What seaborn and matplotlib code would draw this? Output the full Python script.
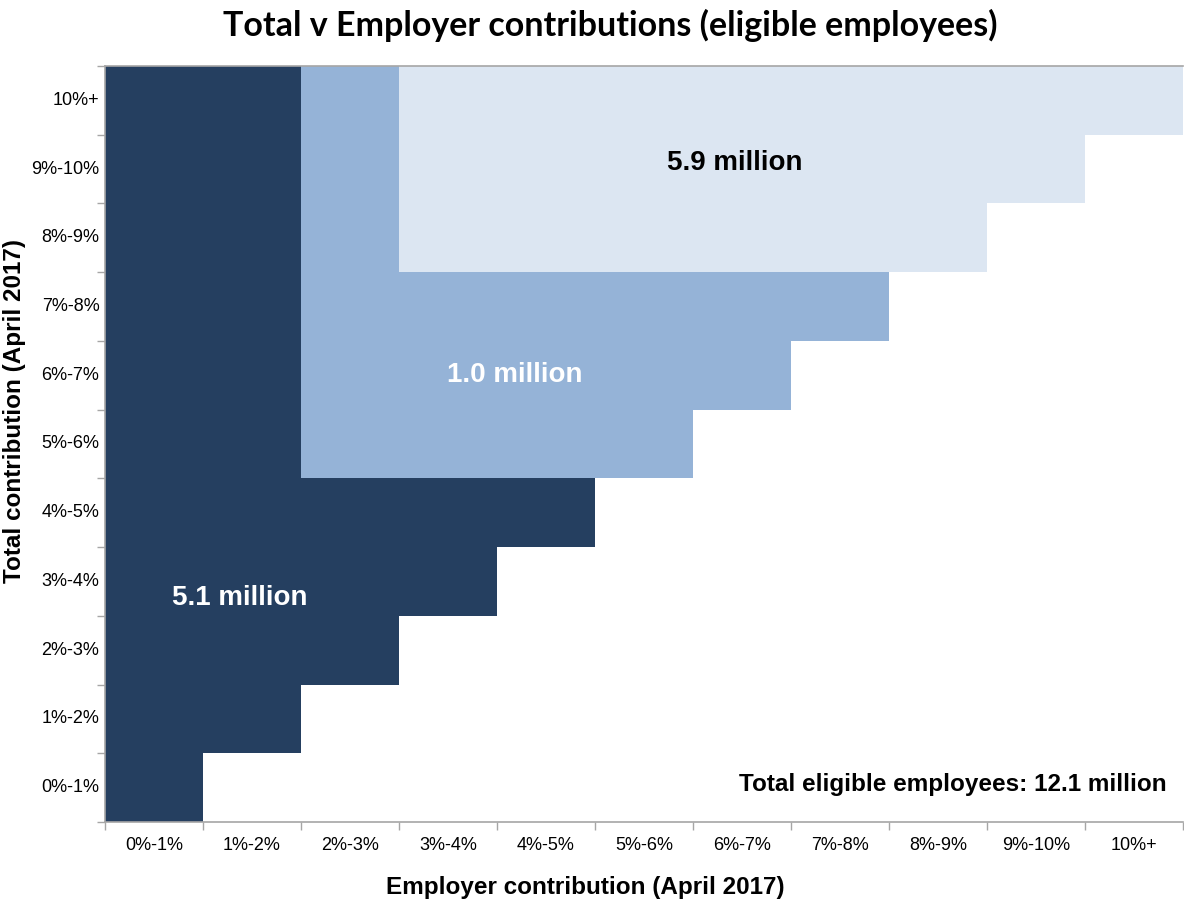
import numpy as np
import pandas as pd
import matplotlib
matplotlib.use("Agg")
import matplotlib.pyplot as plt
from matplotlib.colors import ListedColormap
import seaborn as sns

sns.set_style("white")
plt.rcParams['font.family'] = ['Liberation Sans', 'DejaVu Sans']
plt.rcParams['text.color'] = 'black'
plt.rcParams['axes.labelcolor'] = 'black'

bands = ["0%-1%", "1%-2%", "2%-3%", "3%-4%", "4%-5%", "5%-6%",
         "6%-7%", "7%-8%", "8%-9%", "9%-10%", "10%+"]

# group code per (total contribution row, employer contribution column)
# 0 = no employees, 1 = dark group, 2 = mid group, 3 = light group
row_0 = [1, 0, 0, 0, 0, 0, 0, 0, 0, 0, 0]
row_1 = [1, 1, 0, 0, 0, 0, 0, 0, 0, 0, 0]
row_2 = [1, 1, 1, 0, 0, 0, 0, 0, 0, 0, 0]
row_3 = [1, 1, 1, 1, 0, 0, 0, 0, 0, 0, 0]
row_4 = [1, 1, 1, 1, 1, 0, 0, 0, 0, 0, 0]
row_5 = [1, 1, 2, 2, 2, 2, 0, 0, 0, 0, 0]
row_6 = [1, 1, 2, 2, 2, 2, 2, 0, 0, 0, 0]
row_7 = [1, 1, 2, 2, 2, 2, 2, 2, 0, 0, 0]
row_8 = [1, 1, 2, 3, 3, 3, 3, 3, 3, 0, 0]
row_9 = [1, 1, 2, 3, 3, 3, 3, 3, 3, 3, 0]
row_10 = [1, 1, 2, 3, 3, 3, 3, 3, 3, 3, 3]

group_labels = ["5.1 million", "1.0 million", "5.9 million"]
total_label = "Total eligible employees: 12.1 million"

rows = [row_0, row_1, row_2, row_3, row_4, row_5, row_6, row_7, row_8, row_9, row_10]
df = pd.DataFrame(rows[::-1], index=bands[::-1], columns=bands)

colors = ["#FFFFFF", "#253F60", "#95B3D7", "#DCE6F2"]
cmap = ListedColormap(colors)

fig = plt.figure(figsize=(11.84, 9), dpi=100)
ax = fig.add_axes([0.0887, 0.0867, 0.9103, 0.84])
sns.heatmap(df, cmap=cmap, vmin=-0.5, vmax=3.5, cbar=False, ax=ax,
            linewidths=0, square=False)

n = len(bands)
ax.set_xticks(np.arange(n) + 0.5)
ax.set_xticklabels(bands, rotation=0, fontsize=13, color="black")
ax.set_yticks(np.arange(n) + 0.5)
ax.set_yticklabels(bands[::-1], rotation=0, fontsize=13, color="black")
ax.set_xticks(np.arange(n + 1), minor=True)
ax.set_yticks(np.arange(n + 1), minor=True)
ax.tick_params(axis="both", which="major", length=0)
ax.tick_params(axis="x", which="minor", bottom=True, length=6,
               color="#A6A6A6", width=1)
ax.tick_params(axis="y", which="minor", left=True, length=6,
               color="#A6A6A6", width=1)
ax.tick_params(axis="y", which="major", pad=4)
ax.tick_params(axis="x", which="major", pad=11)

for side in ["top", "bottom", "left"]:
    ax.spines[side].set_visible(True)
    ax.spines[side].set_color("#A6A6A6")
    ax.spines[side].set_linewidth(1.2)
ax.spines["right"].set_visible(False)

ax.set_xlabel("Employer contribution (April 2017)", fontsize=17.5,
              fontweight="bold", color="black")
ax.xaxis.set_label_coords(0.446, -0.072)
ax.set_ylabel("Total contribution (April 2017)", fontsize=17.5,
              fontweight="bold", color="black")
ax.yaxis.set_label_coords(-0.073, 0.544)
fig.suptitle("Total v Employer contributions (eligible employees)",
             fontsize=24.5, fontweight="bold", y=0.99, color="black",
             family=["Lato", "DejaVu Sans"], x=0.515)

ax.text(1.38, 7.74, group_labels[0], color="white", fontsize=20,
        fontweight="bold", ha="center", va="center")
ax.text(4.18, 4.5, group_labels[1], color="white", fontsize=20,
        fontweight="bold", ha="center", va="center")
ax.text(6.43, 1.41, group_labels[2], color="black", fontsize=20,
        fontweight="bold", ha="center", va="center")
ax.text(10.83, 10.45, total_label, color="black", fontsize=17.5,
        fontweight="bold", ha="right", va="center")

fig.savefig("out.png", dpi=100)
